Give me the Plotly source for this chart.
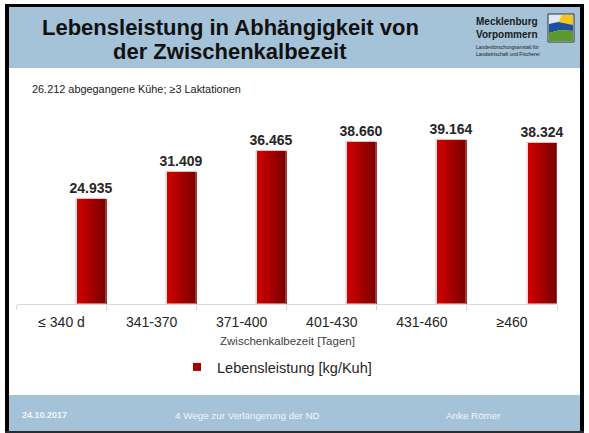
import plotly.graph_objects as go

# Data
categories = ["≤ 340 d", "341-370", "371-400", "401-430", "431-460", "≥460"]
lebensleistung = [24935, 31409, 36465, 38660, 39164, 38324]
series_name = "Lebensleistung [kg/Kuh]"

W, H = 589, 433
FONT = "Arial, Liberation Sans, sans-serif"
BLUE = "#a4c2d8"


def px(x):
    return x / W


def py(y):
    return 1 - y / H


xpos = list(range(len(categories)))
bar_w = 0.333
bar_off = 0.5 - bar_w

fig = go.Figure()

# bars are drawn as thin vertical strips to get a left-to-right red gradient
n_strips = 16
c0 = (205, 0, 0)
c1 = (120, 0, 0)
for k in range(n_strips):
    t = k / (n_strips - 1)
    col = "rgb({},{},{})".format(*[round(a + (b - a) * t) for a, b in zip(c0, c1)])
    sw = bar_w / n_strips
    w = sw * 1.6 if k < n_strips - 1 else sw
    fig.add_trace(go.Bar(
        x=xpos, y=lebensleistung,
        offset=bar_off + k * sw, width=w,
        marker=dict(color=col, line=dict(width=0)),
        showlegend=False, hoverinfo="skip",
    ))

# outline + value labels
fig.add_trace(go.Bar(
    x=xpos, y=lebensleistung,
    offset=bar_off, width=bar_w,
    marker=dict(color="rgba(0,0,0,0)", line=dict(color="rgba(235,160,160,0.7)", width=1)),
    texttemplate="<b>%{y:,.0f}</b>", textposition="outside",
    textfont=dict(family=FONT, size=14, color="#262626"),
    constraintext="none", cliponaxis=False,
    showlegend=False,
))

# legend entry
fig.add_trace(go.Scatter(
    x=[None], y=[None], mode="markers", name=series_name,
    marker=dict(symbol="square", size=8, color="#a80000"),
))

shapes = []
# header and footer bands
shapes.append(dict(type="rect", xref="paper", yref="paper", x0=px(8), x1=px(581),
                   y0=py(68), y1=py(6), fillcolor=BLUE, line=dict(width=0), layer="below"))
shapes.append(dict(type="rect", xref="paper", yref="paper", x0=px(8), x1=px(581),
                   y0=py(431), y1=py(395), fillcolor=BLUE, line=dict(width=0), layer="below"))
# frame
for x0, x1, y0, y1, c in [
    (5, 9, 4, 433, "#000000"),
    (580, 584, 4, 433, "#000000"),
    (5, 584, 4, 7, "#000000"),
    (5, 584, 431, 433, "#2b2b2b"),
]:
    shapes.append(dict(type="rect", xref="paper", yref="paper", x0=px(x0), x1=px(x1),
                       y0=py(y1), y1=py(y0), fillcolor=c, line=dict(width=0)))

# logo picture
lx0, lx1, ly0, ly1 = 548, 574, 14, 42
shapes.append(dict(type="rect", xref="paper", yref="paper", x0=px(lx0), x1=px(lx1),
                   y0=py(ly1), y1=py(ly0), fillcolor="#dfe9f2", line=dict(color="#333333", width=1)))


def path(points):
    s = "M " + " L ".join(f"{px(a):.5f},{py(b):.5f}" for a, b in points) + " Z"
    return s


shapes.append(dict(type="path", xref="paper", yref="paper",
                   path=path([(562, 15), (573, 15), (573, 27), (556, 27)]),
                   fillcolor="#f2c81c", line=dict(width=0)))
shapes.append(dict(type="path", xref="paper", yref="paper",
                   path=path([(549, 24), (558, 22), (573, 25), (573, 31), (560, 30), (549, 33)]),
                   fillcolor="#1f4fa0", line=dict(width=0)))
shapes.append(dict(type="path", xref="paper", yref="paper",
                   path=path([(549, 33), (560, 30), (573, 31), (573, 41), (549, 41)]),
                   fillcolor="#5a9a2a", line=dict(width=0)))


def note(text, x, y, size, color="#1a1a1a", xanchor="center", align="center"):
    return dict(text=text, x=px(x), y=py(y), xref="paper", yref="paper",
                xanchor=xanchor, yanchor="middle", showarrow=False, align=align,
                font=dict(family=FONT, size=size, color=color))


annotations = [
    note("<b>Lebensleistung in Abhängigkeit von</b>", 230, 27, 22, "#111111"),
    note("<b>der Zwischenkalbezeit</b>", 230, 52, 22, "#111111"),
    note("<b>Mecklenburg<br>Vorpommern</b>", 474, 28, 10, xanchor="left", align="left"),
    note("Landesforschungsanstalt für<br>Landwirtschaft und Fischerei", 474, 50, 5,
         xanchor="left", align="left"),
    note("26.212 abgegangene Kühe; ≥3 Laktationen", 30, 89, 10.9, xanchor="left"),
    note("Zwischenkalbezeit [Tagen]", 287, 341, 11.5, "#404040"),
    note("<b>24.10.2017</b>", 20, 415, 9, "#f4f6f8", xanchor="left"),
    note("4 Wege zur Verlängerung der ND", 247, 415, 9.8, "#f4f6f8"),
    note("Anke Römer", 473, 415, 9.8, "#f4f6f8"),
]

y_top_px, y_base_px = 110, 304
y_max = (y_base_px - y_top_px) / 4.2 * 1000

fig.update_layout(
    width=W, height=H,
    margin=dict(l=0, r=0, t=0, b=0),
    paper_bgcolor="white", plot_bgcolor="white",
    barmode="overlay", bargap=0,
    separators=",.",
    showlegend=True,
    legend=dict(orientation="h", x=px(177), xanchor="left", y=py(367), yanchor="middle",
                font=dict(family=FONT, size=14.5, color="#262626"), itemwidth=30,
                bgcolor="rgba(0,0,0,0)"),
    xaxis=dict(
        domain=[px(16.5), px(557)], range=[-0.5, 5.5],
        tickvals=xpos, ticktext=categories, ticks="",
        tickfont=dict(family=FONT, size=14, color="#262626"),
        ticklabelstandoff=5,
        showline=True, linecolor="#d9d9d9", linewidth=1,
        showgrid=False, zeroline=False, fixedrange=True,
        minor=dict(tickvals=[i - 0.5 for i in range(len(categories) + 1)], ticks="outside",
                   ticklen=5, tickcolor="#d9d9d9", showgrid=False),
    ),
    yaxis=dict(
        domain=[py(y_base_px), py(y_top_px)], range=[0, y_max],
        visible=False, showgrid=False, zeroline=False,
    ),
    shapes=shapes,
    annotations=annotations,
)

fig.write_html("out.html")
